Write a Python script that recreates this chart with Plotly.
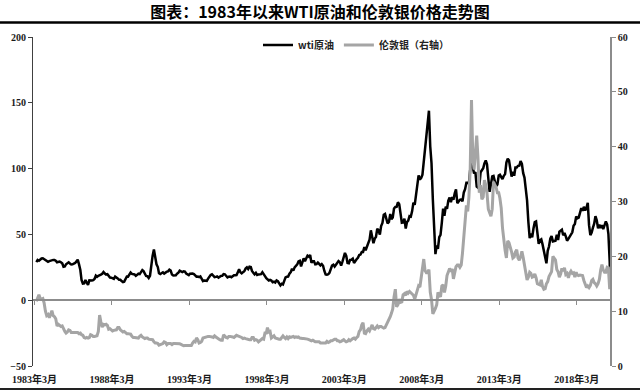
import pandas as pd
import plotly.graph_objects as go

# ---------------- data ----------------
title_text = "图表：1983年以来WTI原油和伦敦银价格走势图"
series_names = ["wti原油", "伦敦银（右轴）"]

month_start = "1983-03-15"
month_end = "2020-03-15"
extra_dates = ["2020-04-15", "2020-04-20"]

wti_price = [
    29.0, 30.6, 30.0, 31.0, 31.7, 31.9, 31.1, 30.4, 29.8, 29.2,
    29.7, 30.1, 30.8, 30.6, 30.5, 30.0, 28.8, 29.3, 29.3, 28.8, 28.1, 25.4,
    25.6, 27.3, 28.2, 28.8, 27.9, 27.2, 27.3, 27.8, 28.3, 29.5, 30.8, 27.2,
    22.9, 15.4, 12.6, 12.8, 15.4, 13.4, 11.6, 15.1, 14.9, 14.9, 15.2, 16.1,
    18.6, 17.8, 18.6, 18.8, 19.4, 20.1, 21.4, 20.3, 19.5, 19.8, 18.9, 17.2,
    17.1, 16.8, 16.2, 17.9, 17.4, 16.5, 15.5, 15.5, 14.5, 13.8, 14.1, 16.3,
    18.0, 17.9, 19.9, 21.0, 20.0, 20.0, 19.6, 18.5, 19.6, 20.1, 19.8, 21.1,
    22.9, 22.1, 20.4, 18.4, 18.2, 16.9, 18.6, 27.2, 33.7, 38.5, 32.3, 27.3,
    25.2, 20.5, 19.9, 20.8, 21.2, 20.2, 21.4, 21.7, 21.9, 23.2, 22.5, 19.5,
    18.8, 19.0, 18.9, 20.2, 20.9, 22.4, 21.8, 21.4, 21.9, 21.7, 20.3, 19.4,
    19.1, 20.1, 20.3, 20.3, 19.9, 19.1, 17.9, 18.0, 17.5, 18.1, 16.7, 14.5,
    15.0, 14.8, 14.7, 16.4, 17.9, 19.1, 19.7, 18.4, 17.5, 17.7, 18.1, 17.2,
    18.0, 18.5, 18.6, 19.9, 19.7, 18.4, 17.3, 17.9, 18.0, 17.4, 18.0, 19.0,
    18.9, 19.1, 21.3, 23.5, 21.2, 20.4, 21.3, 22.0, 24.0, 24.9, 23.7, 25.4,
    25.2, 22.2, 20.9, 19.7, 20.8, 19.2, 19.6, 19.9, 19.8, 21.3, 20.2, 18.3,
    16.7, 16.1, 15.0, 15.4, 14.9, 13.7, 14.1, 13.4, 15.0, 14.4, 12.9, 11.3,
    12.5, 12.0, 14.7, 17.3, 17.8, 17.9, 20.1, 21.3, 23.9, 22.6, 25.0, 26.1,
    27.2, 29.4, 29.9, 25.7, 28.8, 31.8, 29.7, 31.3, 33.9, 33.1, 34.4, 28.5,
    29.6, 29.6, 27.2, 27.4, 28.6, 27.6, 26.4, 27.4, 26.2, 22.2, 19.6, 19.3,
    19.7, 20.7, 24.4, 26.3, 27.0, 25.5, 26.9, 28.4, 29.7, 28.9, 26.3, 29.4,
    32.9, 35.9, 33.6, 28.3, 28.1, 30.7, 30.8, 31.6, 28.3, 30.3, 31.1, 32.2,
    34.3, 34.7, 36.7, 36.7, 40.3, 38.0, 40.7, 44.9, 45.9, 53.1, 48.5, 43.3,
    46.8, 48.0, 54.3, 53.0, 49.8, 56.3, 58.7, 65.0, 65.6, 62.4, 58.3, 59.4,
    65.5, 61.6, 62.9, 69.7, 70.9, 71.0, 74.4, 73.0, 63.8, 58.9, 59.1, 62.0,
    54.5, 59.3, 60.4, 63.9, 63.5, 67.5, 74.1, 72.4, 79.9, 85.8, 94.8, 91.7,
    93.0, 95.4, 105.5, 112.6, 125.4, 133.9, 144.0, 116.7, 104.1, 76.6, 57.3, 35.0,
    41.7, 39.1, 47.9, 49.7, 59.0, 69.6, 64.2, 71.1, 69.4, 75.7, 78.0, 74.5,
    78.3, 76.4, 81.2, 84.3, 73.7, 75.3, 76.3, 76.6, 75.2, 81.9, 84.3, 89.2,
    89.2, 88.6, 102.9, 109.5, 100.9, 96.3, 97.3, 86.3, 85.5, 86.3, 97.2, 98.6,
    100.3, 104.0, 106.2, 103.3, 94.7, 82.3, 87.9, 94.1, 94.5, 89.5, 86.5, 87.9,
    94.8, 95.3, 92.9, 92.0, 94.5, 95.8, 104.6, 107.5, 106.3, 100.5, 93.9, 97.6,
    94.6, 100.8, 100.8, 102.1, 102.2, 105.8, 103.6, 96.5, 93.2, 84.4, 75.8, 59.3,
    47.2, 50.6, 47.8, 54.5, 59.3, 59.8, 50.9, 42.9, 45.5, 46.2, 42.4, 37.2,
    31.7, 28.0, 37.5, 40.8, 46.7, 48.8, 44.7, 44.7, 45.2, 49.8, 45.7, 52.0,
    52.5, 53.5, 49.3, 51.1, 48.5, 45.2, 46.6, 48.0, 49.8, 51.6, 56.6, 57.9,
    63.7, 62.2, 62.7, 66.3, 70.0, 67.9, 71.0, 68.1, 70.2, 74.0, 57.0, 49.5,
    51.4, 54.9, 58.2, 63.9, 60.8, 54.7, 57.4, 54.8, 57.0, 54.0, 57.0, 59.9,
    57.5, 50.5, 29.2,
    20.0, -37.0,
]

silver_price = [
    11.8, 12.4, 13.0, 12.3, 12.2, 12.3, 11.5, 10.0, 9.2, 9.4,
    8.8, 9.4, 10.1, 9.2, 9.0, 8.6, 7.3, 7.6, 7.3, 7.2, 7.3, 6.6,
    6.3, 6.0, 6.2, 6.6, 6.5, 6.1, 6.1, 6.2, 6.1, 6.2, 6.1, 5.9,
    6.0, 5.7, 5.6, 5.2, 5.1, 5.2, 5.1, 5.2, 5.7, 5.6, 5.4, 5.4,
    5.5, 5.5, 6.3, 9.3, 8.0, 7.1, 7.6, 7.5, 7.6, 7.4, 6.7, 6.8,
    6.6, 6.4, 6.5, 6.5, 6.6, 7.0, 7.0, 6.6, 6.3, 6.2, 6.3, 6.1,
    5.9, 5.9, 5.8, 5.8, 5.4, 5.2, 5.2, 5.2, 5.2, 5.1, 5.4, 5.6,
    5.3, 5.2, 5.0, 5.1, 5.1, 4.9, 4.9, 4.9, 4.8, 4.4, 4.2, 4.2,
    4.1, 3.8, 3.9, 4.0, 4.1, 4.4, 4.3, 3.9, 4.1, 4.1, 4.1, 3.9,
    4.1, 4.1, 4.1, 4.0, 4.05, 4.05, 3.95, 3.8, 3.7, 3.75, 3.75, 3.72,
    3.68, 3.62, 3.72, 4.2, 4.5, 4.4, 5.1, 4.8, 4.2, 4.3, 4.5, 5.1,
    5.2, 5.3, 5.4, 5.4, 5.4, 5.4, 5.3, 5.2, 5.5, 5.3, 5.1, 4.9,
    4.8, 4.7, 4.7, 5.7, 5.4, 5.2, 5.1, 5.4, 5.4, 5.4, 5.3, 5.2,
    5.5, 5.6, 5.5, 5.4, 5.4, 5.2, 5.0, 5.1, 5.0, 4.9, 4.8, 4.8,
    4.8, 5.2, 5.2, 4.7, 4.8, 4.7, 4.4, 4.6, 4.8, 5.0, 4.9, 6.0,
    6.0, 7.0, 6.2, 6.3, 5.1, 5.3, 5.5, 5.1, 5.0, 5.0, 4.9, 4.9,
    5.2, 5.5, 5.2, 5.0, 5.3, 5.0, 5.3, 5.2, 5.3, 5.4, 5.2, 5.3,
    5.2, 5.3, 5.1, 5.0, 5.0, 5.0, 5.0, 4.9, 4.9, 4.8, 4.7, 4.6,
    4.7, 4.5, 4.4, 4.4, 4.4, 4.4, 4.2, 4.2, 4.3, 4.3, 4.2, 4.5,
    4.3, 4.4, 4.6, 4.6, 4.8, 4.9, 4.9, 4.6, 4.6, 4.4, 4.5, 4.6,
    4.8, 4.6, 4.4, 4.5, 4.8, 4.6, 4.9, 5.0, 5.1, 4.9, 5.2, 5.4,
    6.3, 6.6, 7.5, 7.9, 6.0, 5.9, 6.4, 6.7, 6.4, 7.2, 7.5, 6.8,
    6.7, 7.0, 7.3, 7.0, 7.2, 7.2, 7.0, 6.9, 7.0, 7.5, 7.8, 8.6,
    9.0, 9.6, 10.4, 12.6, 14.0, 10.8, 11.2, 12.2, 11.6, 11.7, 13.0, 13.2,
    12.9, 13.6, 13.3, 13.6, 13.4, 13.2, 12.9, 12.2, 12.9, 13.7, 14.6, 14.4,
    15.9, 17.5, 19.5, 17.4, 17.0, 17.0, 17.6, 13.5, 12.1, 9.5, 9.9, 10.5,
    11.2, 13.4, 13.0, 12.6, 14.6, 14.8, 13.4, 14.6, 16.5, 17.1, 17.8, 17.2,
    17.7, 15.9, 17.1, 18.1, 18.4, 18.4, 18.0, 18.4, 20.6, 23.4, 26.5, 29.3,
    28.2, 30.8, 36.0, 48.5, 38.0, 35.8, 38.9, 42.0, 37.9, 31.6, 33.0, 30.4,
    30.8, 33.9, 33.0, 31.5, 28.6, 27.8, 27.3, 28.6, 33.6, 33.0, 32.6, 31.6,
    31.6, 30.6, 28.8, 25.2, 22.3, 21.1, 19.7, 22.8, 22.5, 21.8, 20.8, 19.7,
    19.9, 20.8, 21.2, 19.7, 19.3, 19.9, 20.9, 19.8, 18.4, 17.2, 15.7, 16.2,
    17.1, 16.9, 16.2, 16.3, 16.8, 16.1, 15.0, 14.9, 14.8, 15.7, 14.5, 14.0,
    14.1, 15.0, 15.4, 16.3, 16.9, 17.2, 20.0, 19.6, 19.3, 17.6, 17.2, 16.2,
    16.8, 17.8, 17.3, 17.9, 16.7, 16.9, 16.1, 16.9, 17.3, 16.9, 17.0, 16.2,
    17.1, 16.6, 16.5, 16.6, 16.5, 16.5, 15.6, 14.9, 14.3, 14.6, 14.3, 14.7,
    15.6, 15.8, 15.2, 15.0, 14.6, 15.0, 15.8, 17.5, 18.5, 17.5, 17.1, 17.1,
    18.0, 17.9, 14.0,
    15.2, 15.0,
]

tick_dates = ["1983-03-01", "1988-03-01", "1993-03-01", "1998-03-01",
              "2003-03-01", "2008-03-01", "2013-03-01", "2018-03-01"]
tick_labels = ["1983年3月", "1988年3月", "1993年3月", "1998年3月",
               "2003年3月", "2008年3月", "2013年3月", "2018年3月"]

left_range = [-50, 200]
right_range = [0, 60]
x_range = ["1983-01-26", "2020-04-22"]

# ---------------- build ----------------
dates = list(pd.date_range(month_start, month_end, freq="MS") + pd.Timedelta(days=14))
dates = [d.strftime("%Y-%m-%d") for d in dates] + extra_dates

W, H = 640, 391
ML, MR, MT, MB = 33, 30, 37, 25
PW, PH = W - ML - MR, H - MT - MB


def px_x(p):
    return (p - ML) / PW


def px_y(p):
    return (H - MB - p) / PH


tick_font = dict(family="Liberation Serif, Noto Sans CJK SC", size=10, color="#1a1a1a", weight="bold")

fig = go.Figure()
fig.add_trace(go.Scatter(
    x=dates, y=wti_price, name=series_names[0], mode="lines",
    line=dict(color="#000000", width=2.5),
    xaxis="x", yaxis="y",
))
fig.add_trace(go.Scatter(
    x=dates, y=silver_price, name=series_names[1], mode="lines",
    line=dict(color="#a5a5a5", width=3),
    xaxis="x2", yaxis="y2",
))

fig.update_layout(
    width=W, height=H,
    margin=dict(l=ML, r=MR, t=MT, b=MB, pad=0, autoexpand=False),
    paper_bgcolor="white", plot_bgcolor="white",
    title=dict(text=title_text, x=0.5, xanchor="center", y=1 - 12 / H, yanchor="middle",
               font=dict(family="Noto Sans CJK SC", size=16, color="#000000", weight="bold")),
    showlegend=True,
    legend=dict(orientation="h", x=px_x(356), xanchor="center", y=px_y(45), yanchor="middle",
                font=dict(family="Noto Sans CJK SC", size=10, color="#222222", weight="bold"),
                bgcolor="rgba(0,0,0,0)", itemwidth=30, tracegroupgap=0),
    xaxis=dict(
        type="date", range=x_range, tickvals=tick_dates, ticktext=tick_labels,
        showline=False, showgrid=False, zeroline=False, ticks="", automargin=False,
        tickfont=tick_font, ticklabelstandoff=6,
    ),
    xaxis2=dict(
        type="date", range=x_range, overlaying="x", anchor="free", position=px_y(300),
        tickvals=tick_dates, showticklabels=False, showline=True, linecolor="#8c8c8c",
        linewidth=1.5, ticks="outside", ticklen=4, tickcolor="#8c8c8c", showgrid=False,
        zeroline=False, automargin=False,
    ),
    yaxis=dict(
        range=left_range, dtick=50, showline=True, linecolor="#404040", linewidth=1,
        ticks="outside", ticklen=4, tickcolor="#404040", showgrid=False, zeroline=False,
        tickfont=tick_font, automargin=False,
    ),
    yaxis2=dict(
        range=right_range, dtick=10, overlaying="y", side="right", anchor="x2",
        showline=True, linecolor="#8c8c8c", linewidth=1.5, ticks="outside", ticklen=4,
        tickcolor="#8c8c8c", showgrid=False, zeroline=False, tickfont=tick_font,
        automargin=False,
    ),
    shapes=[
        dict(type="line", xref="paper", yref="paper", x0=px_x(0), x1=px_x(W),
             y0=px_y(22.5), y1=px_y(22.5), line=dict(color="#000000", width=2.5)),
        dict(type="line", xref="paper", yref="paper", x0=px_x(0), x1=px_x(W),
             y0=px_y(389), y1=px_y(389), line=dict(color="#222222", width=2)),
    ],
)

fig.write_html(
    "out.html",
    config={"displayModeBar": False},
    post_script="document.body.style.margin='0';document.body.style.padding='0';",
)
